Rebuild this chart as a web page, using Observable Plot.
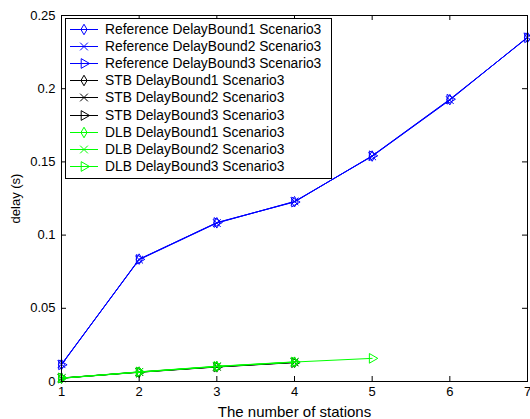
<!DOCTYPE html>
<html><head><meta charset="utf-8">
<script src="https://cdn.jsdelivr.net/npm/d3@7"></script>
<script src="https://cdn.jsdelivr.net/npm/@observablehq/plot@0.6"></script>
<style>
body{margin:0;background:#fff;}
#wrap{position:relative;width:530px;height:419px;font-family:"Liberation Sans",Arial,sans-serif;}
#legend{position:absolute;left:65px;top:18px;width:267px;height:161px;border:1px solid #000;background:#fff;box-sizing:border-box;}
.row{position:absolute;left:0;height:17px;display:flex;align-items:center;font-size:13.8px;color:#000;white-space:nowrap;}
.row svg{margin-left:4px;margin-right:7px;}
</style></head><body><div id="wrap"></div>
<script>
// ---- data ----
const stations = [1, 2, 3, 4, 5, 6, 7];
const ref1 = [0.0116, 0.0836, 0.1084, 0.1228, 0.1540, 0.1925, 0.2350];
const ref2 = [0.0118, 0.0832, 0.1082, 0.1230, 0.1538, 0.1922, 0.2352];
const ref3 = [0.0114, 0.0834, 0.1086, 0.1226, 0.1542, 0.1928, 0.2348];
const stb1 = [0.0023, 0.0064, 0.0100, 0.0130];
const stb2 = [0.0022, 0.0065, 0.0101, 0.0131];
const stb3 = [0.0024, 0.0063, 0.0099, 0.0129];
const dlb1 = [0.0022, 0.0063, 0.0102, 0.0132];
const dlb2 = [0.0023, 0.0066, 0.0104, 0.0134];
const dlb3 = [0.0024, 0.0065, 0.0103, 0.0133, 0.0158];
const seriesNames = [
  "Reference DelayBound1 Scenario3", "Reference DelayBound2 Scenario3", "Reference DelayBound3 Scenario3",
  "STB DelayBound1 Scenario3", "STB DelayBound2 Scenario3", "STB DelayBound3 Scenario3",
  "DLB DelayBound1 Scenario3", "DLB DelayBound2 Scenario3", "DLB DelayBound3 Scenario3"
];
const seriesValues = [ref1, ref2, ref3, stb1, stb2, stb3, dlb1, dlb2, dlb3];
const seriesColors = ["#0000ff", "#0000ff", "#0000ff", "#000000", "#000000", "#000000", "#00ff00", "#00ff00", "#00ff00"];
const seriesMarkers = ["diamond", "times", "triangle", "diamond", "times", "triangle", "diamond", "times", "triangle"];
const xTicks = [1, 2, 3, 4, 5, 6, 7];
const yTicks = [0, 0.05, 0.1, 0.15, 0.2, 0.25];
const xLabel = "The number of stations";
const yLabel = "delay (s)";

// ---- layout ----
const W = 530, H = 419, mL = 61, mR = 3, mT = 15, mB = 38;
const fw = W - mL - mR, fh = H - mT - mB, tk = 5;
const markerR = {diamond: 3.2, times: 3.6, triangle: 3.6};

const marks = [];
seriesValues.forEach((vals, i) => {
  const rows = vals.map((v, j) => ({x: stations[j], y: v}));
  const m = seriesMarkers[i];
  marks.push(Plot.line(rows, {x: "x", y: "y", stroke: seriesColors[i], strokeWidth: 1}));
  marks.push(Plot.dot(rows, {x: "x", y: "y", symbol: m, stroke: seriesColors[i], fill: "none", r: markerR[m], rotate: m === "triangle" ? 90 : 0, strokeWidth: 1}));
});
// inward ticks on all four sides
marks.push(Plot.tickX(xTicks, {x: d => d, insetTop: fh - tk, stroke: "#000"}));
marks.push(Plot.tickX(xTicks, {x: d => d, insetBottom: fh - tk, stroke: "#000"}));
marks.push(Plot.tickY(yTicks, {y: d => d, insetRight: fw - tk, stroke: "#000"}));
marks.push(Plot.tickY(yTicks, {y: d => d, insetLeft: fw - tk, stroke: "#000"}));
marks.push(Plot.frame({stroke: "#000"}));
marks.push(Plot.axisX(xTicks, {tickSize: 0, tickPadding: 5, tickFormat: d => String(d), label: null, fontSize: 13}));
marks.push(Plot.text([xLabel], {text: d => d, frameAnchor: "bottom", lineAnchor: "bottom", dy: 35, fontSize: 15, fill: "#000"}));
marks.push(Plot.axisY(yTicks, {tickSize: 0, tickPadding: 6, tickFormat: d => String(d), label: yLabel, labelAnchor: "center", labelOffset: 51, labelArrow: "none", fontSize: 13}));

const chart = Plot.plot({
  width: W, height: H,
  marginLeft: mL, marginRight: mR, marginTop: mT, marginBottom: mB,
  x: {domain: [1, 7]},
  y: {domain: [0, 0.25]},
  style: {fontFamily: "'Liberation Sans', Arial, sans-serif", fontSize: "13px", color: "#000", background: "#fff"},
  marks
});
const wrap = document.getElementById("wrap");
wrap.appendChild(chart);

// ---- legend ----
const leg = document.createElement("div");
leg.id = "legend";
seriesNames.forEach((name, i) => {
  const row = document.createElement("div");
  row.className = "row";
  row.style.top = (1.5 + i * 17.2) + "px";
  const s = d3.create("svg").attr("width", 28).attr("height", 17);
  s.append("line").attr("x1", 0).attr("x2", 28).attr("y1", 8.5).attr("y2", 8.5).attr("stroke", seriesColors[i]);
  const m = seriesMarkers[i];
  const sym = m === "diamond" ? d3.symbolDiamond : m === "times" ? d3.symbolTimes : d3.symbolTriangle;
  const r = markerR[m];
  const size = r * r * Math.PI;
  s.append("path").attr("d", d3.symbol(sym, size)())
    .attr("transform", `translate(14,8.5) rotate(${m === "triangle" ? 90 : 0})`)
    .attr("fill", "none").attr("stroke", seriesColors[i]);
  row.appendChild(s.node());
  const t = document.createElement("span");
  t.textContent = name;
  row.appendChild(t);
  leg.appendChild(row);
});
wrap.appendChild(leg);
</script></body></html>
